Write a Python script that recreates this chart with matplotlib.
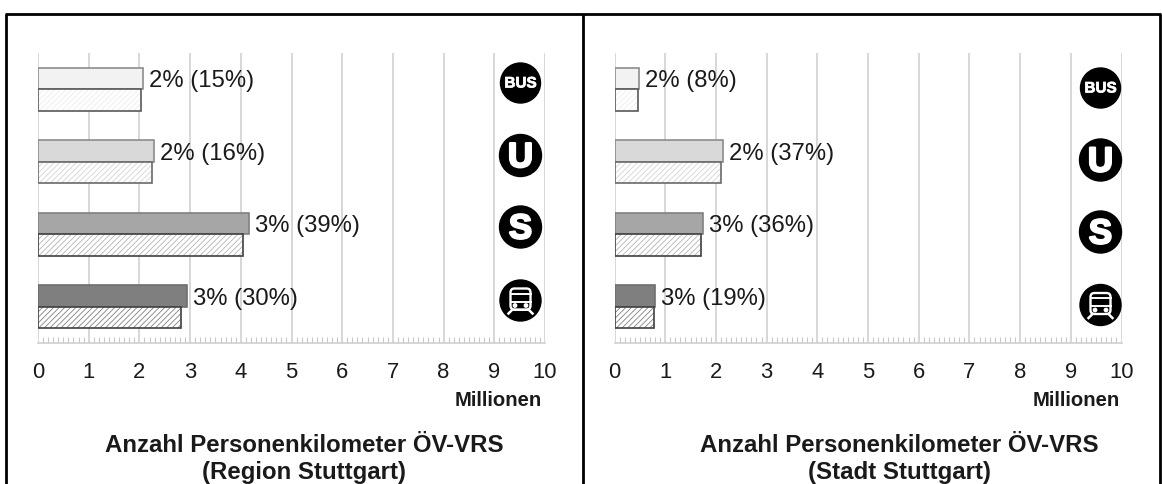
import numpy as np
import matplotlib
matplotlib.use('Agg')
import matplotlib.pyplot as plt
import matplotlib.patheffects as pe
from matplotlib.patches import Circle, FancyBboxPatch

plt.rcParams['font.family'] = ['Liberation Sans', 'DejaVu Sans']
plt.rcParams['hatch.linewidth'] = 0.6

modes = ['BUS', 'U', 'S', 'Bahn']
share_labels_region = ['2% (15%)', '2% (16%)', '3% (39%)', '3% (30%)']
share_labels_stadt = ['2% (8%)', '2% (37%)', '3% (36%)', '3% (19%)']
upper_region = [2.08, 2.29, 4.17, 2.93]
lower_region = [2.04, 2.24, 4.05, 2.83]
upper_stadt = [0.48, 2.14, 1.74, 0.80]
lower_stadt = [0.46, 2.10, 1.70, 0.77]
x_ticks = list(range(0, 11))
titles = ['Anzahl Personenkilometer ÖV-VRS\n(Region Stuttgart)',
          'Anzahl Personenkilometer ÖV-VRS\n(Stadt Stuttgart)']

W, H = 1162, 484
fills = ['#f2f2f2', '#d9d9d9', '#a6a6a6', '#7f7f7f']
edges = ['#8c8c8c', '#8c8c8c', '#808080', '#6e6e6e']
hatch_cols = ['#ececec', '#d4d4d4', '#b4b4b4', '#808080']
low_edges = ['#595959', '#6a6a6a', '#404040', '#404040']


def draw_panel(fig, x0, upper, lower, labels):
    ax = fig.add_axes([x0 / W, 1 - 343 / H, 507 / W, 290 / H])
    y = np.arange(len(modes))
    h = 0.295
    ax.barh(y - h / 2, upper, h, color=fills, edgecolor=edges, linewidth=1.2, zorder=3)
    for i in y:
        # hatch first in its own colour, then the dark outline on top
        ax.barh(i + h / 2, lower[i], h, color='white', edgecolor=hatch_cols[i],
                hatch='//////', linewidth=0, zorder=3)
        ax.barh(i + h / 2, lower[i], h, fill=False, edgecolor=low_edges[i],
                linewidth=1.2, zorder=4)
        ax.annotate(labels[i], (upper[i], i - h / 2), xytext=(4.3, -2),
                    textcoords='offset points', va='center', ha='left',
                    fontsize=17.2, color='#1a1a1a', zorder=5)
    ax.set_xlim(0, 10)
    ax.set_ylim(3.5, -0.5)
    for s in ['top', 'right', 'left']:
        ax.spines[s].set_visible(False)
    ax.spines['bottom'].set_color('#d0d0d0')
    ax.spines['bottom'].set_linewidth(1.2)
    ax.set_yticks([])
    ax.set_xticks(x_ticks)
    ax.set_xticks(np.arange(0, 10.01, 0.1), minor=True)
    ax.tick_params(axis='x', which='major', length=0, pad=13.5, labelsize=15.8, labelcolor='#1a1a1a')
    ax.tick_params(axis='x', which='minor', direction='in', length=4, width=0.8, color='#c8c8c8')
    ax.grid(axis='x', which='major', color='#d4d4d4', linewidth=1.3, zorder=0)
    ax.set_axisbelow(True)
    return ax


def icon_base(ov, cx, cy, r=20.5):
    ov.add_patch(Circle((cx, cy), r, color='black', zorder=6))


def draw_icons(ov, cx, cys):
    heavy = [pe.withStroke(linewidth=1.6, foreground='white')]
    icon_base(ov, cx, cys[0], 20)
    ov.text(cx, cys[0] + 0.5, 'BUS', color='white', fontsize=11, fontweight='bold',
            ha='center', va='center', zorder=7, path_effects=[pe.withStroke(linewidth=0.5, foreground='white')])
    icon_base(ov, cx, cys[1], 21)
    ov.text(cx, cys[1] + 2, 'U', color='white', fontsize=25, fontweight='bold',
            ha='center', va='center', zorder=7, path_effects=heavy)
    icon_base(ov, cx, cys[2], 21)
    ov.text(cx, cys[2] + 2, 'S', color='white', fontsize=25, fontweight='bold',
            ha='center', va='center', zorder=7, path_effects=heavy)
    # train front: body outline, windows, lights and track
    cy = cys[3]
    icon_base(ov, cx, cy, 20.5)
    ov.add_patch(FancyBboxPatch((cx - 10, cy - 12), 20, 21, boxstyle='round,pad=0,rounding_size=4',
                                fc='none', ec='white', lw=1.7, zorder=7))
    ov.plot([cx - 10, cx + 10], [cy + 1, cy + 1], color='white', lw=1.4, zorder=8)
    ov.plot([cx - 10, cx + 10], [cy - 7, cy - 7], color='white', lw=1.4, zorder=8)
    ov.plot([cx - 7, cx + 7], [cy + 9, cy + 9], color='white', lw=1.4, zorder=8)
    ov.plot([cx - 8, cx - 12], [cy + 9, cy + 13], color='white', lw=1.8, zorder=8)
    ov.plot([cx + 8, cx + 12], [cy + 9, cy + 13], color='white', lw=1.8, zorder=8)
    ov.add_patch(Circle((cx - 5.5, cy + 5), 1.7, color='white', zorder=8))
    ov.add_patch(Circle((cx + 5.5, cy + 5), 1.7, color='white', zorder=8))


fig = plt.figure(figsize=(W / 100, H / 100), dpi=100, facecolor='white')
draw_panel(fig, 38, upper_region, lower_region, share_labels_region)
draw_panel(fig, 614.5, upper_stadt, lower_stadt, share_labels_stadt)

# overlay in pixel units for the frame, icons and captions
ov = fig.add_axes([0, 0, 1, 1], facecolor='none')
ov.set_xlim(0, W)
ov.set_ylim(H, 0)
ov.axis('off')
frame_kw = dict(color='black', lw=2.0, solid_capstyle='butt')
ov.plot([6, 6], [14, H], **frame_kw)
ov.plot([582.5, 582.5], [14, H], **frame_kw)
ov.plot([1160, 1160], [14, H], **frame_kw)
ov.plot([5, 1161], [14, 14], **frame_kw)

draw_icons(ov, 520.5, [83, 155.5, 227, 300.5])
draw_icons(ov, 1100.5, [88, 160, 232, 305])

for right, cx, title in zip([542, 1120], [304, 899], titles):
    ov.text(right, 400, 'Millionen', fontsize=14.6, fontweight='bold', ha='right', va='center',
            color='#1a1a1a')
    ov.text(cx, 459, title, fontsize=17.3, fontweight='bold', ha='center', va='center',
            linespacing=1.2, color='#1a1a1a')

fig.savefig('out.png', dpi=100)
